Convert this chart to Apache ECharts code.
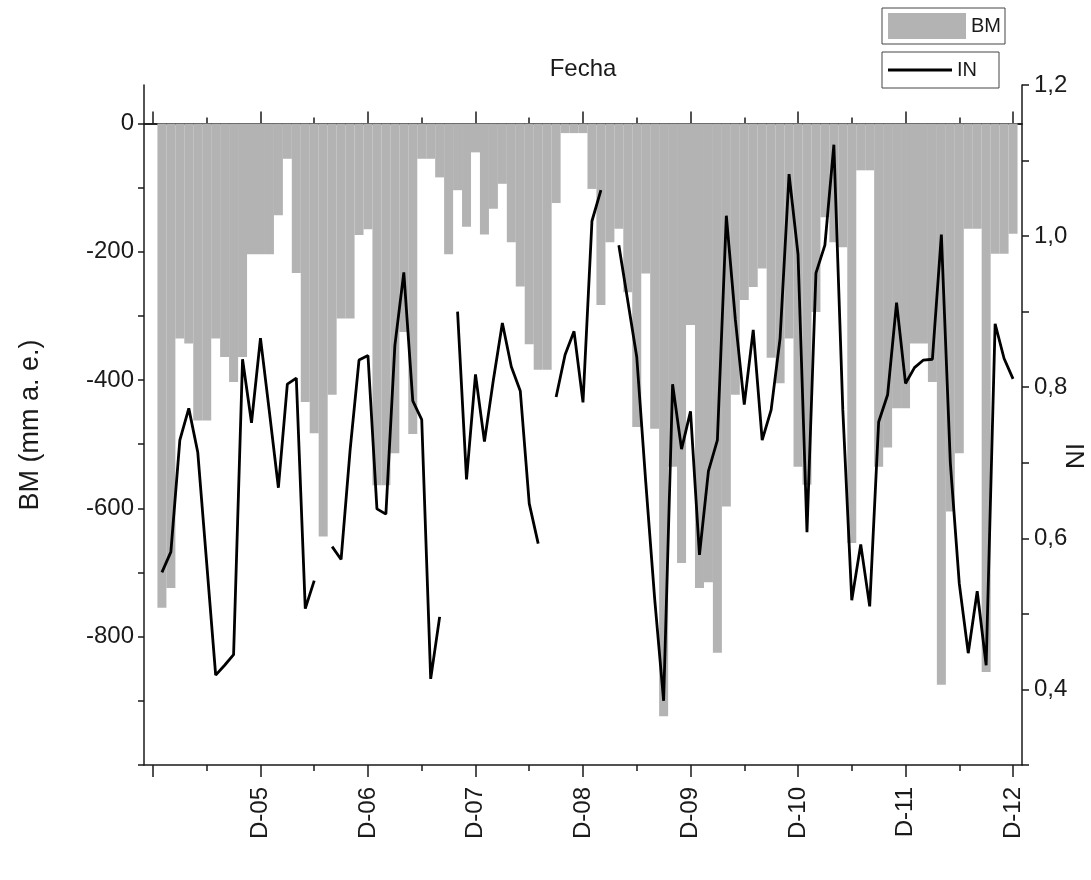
<!DOCTYPE html>
<html>
<head>
<meta charset="utf-8">
<script src="https://cdn.jsdelivr.net/npm/echarts@6/dist/echarts.min.js"></script>
<style>html,body{margin:0;padding:0;background:#fff}#c{width:1091px;height:880px}</style>
</head>
<body>
<div id="c"></div>
<script>
// Monthly values, Jan 2005 (month 1) .. Dec 2012 (month 96)
const BM = [
  -755,-724,-335,-343,-463,-463,-335,-364,-403,-364,-204,-204,
  -204,-143,-55,-233,-434,-483,-644,-423,-304,-304,-174,-165,
  -564,-564,-514,-325,-484,-55,-55,-84,-204,-104,-161,-45,
  -173,-133,-94,-185,-254,-344,-384,-384,-124,-15,-15,-15,
  -102,-283,-185,-164,-263,-473,-234,-476,-924,-535,-685,-314,
  -724,-715,-825,-597,-423,-275,-255,-226,-365,-405,-335,-535,
  -563,-294,-146,-185,-193,-654,-73,-73,-535,-505,-444,-444,
  -343,-343,-403,-875,-605,-514,-164,-164,-855,-203,-203,-172
];
const IN = [
  0.555,0.582,0.730,0.772,0.714,0.567,0.419,0.432,0.446,0.837,0.753,0.865,
  0.767,0.667,0.804,0.812,0.507,0.544,null,0.589,0.572,0.716,0.836,0.842,
  0.639,0.632,0.855,0.952,0.782,0.757,0.414,0.496,null,0.900,0.678,0.817,
  0.728,0.810,0.885,0.827,0.795,0.646,0.593,null,0.787,0.843,0.874,0.780,
  1.020,1.061,null,0.988,0.914,0.840,0.675,0.520,0.385,0.804,0.718,0.768,
  0.578,0.689,0.730,1.027,0.890,0.777,0.876,0.730,0.770,0.865,1.082,0.976,
  0.608,0.951,0.988,1.121,0.770,0.518,0.592,0.510,0.754,0.790,0.912,0.805,
  0.826,0.836,0.837,1.002,0.700,0.540,0.448,0.530,0.432,0.884,0.838,0.811
];
const yearTicks = [0,12,24,36,48,60,72,84,96];
const yearLabels = ['D-04','D-05','D-06','D-07','D-08','D-09','D-10','D-11','D-12'];
const halfYearTicks = [6,18,30,42,54,66,78,90];
const bmTicks = [-1000,-900,-800,-700,-600,-500,-400,-300,-200,-100,0];
const bmLabels = [-800,-600,-400,-200,0];
const inTicks = [0.3,0.4,0.5,0.6,0.7,0.8,0.9,1.0,1.1,1.2];
const inLabels = [0.4,0.6,0.8,1.0,1.2];

const FONT = "'Liberation Sans', Arial, sans-serif";
const INK = '#1a1a1a';
const lineSt = {color: INK, width: 1.5};

const chart = echarts.init(document.getElementById('c'), null, {renderer: 'canvas'});
const gridBox = {left: 144, right: 69, top: 85, bottom: 115, outerBoundsMode: 'none', containLabel: false};
const xBase = {type: 'value', min: -1, max: 97, splitLine: {show: false}};

chart.setOption({
  backgroundColor: '#fff',
  animation: false,
  textStyle: {fontFamily: FONT},
  grid: [Object.assign({}, gridBox), Object.assign({}, gridBox)],
  graphic: [
    {type: 'text', x: 1073, y: 456, rotation: -Math.PI / 2,
     style: {text: 'IN', fontSize: 26, fontFamily: FONT, fill: INK, align: 'center', verticalAlign: 'middle'}}
  ],
  legend: [
    {data: [{name: 'BM', icon: 'rect'}], left: 882, top: 8, itemWidth: 78, itemHeight: 26, itemGap: 4,
     padding: [5, 4, 5, 6], borderColor: '#444', borderWidth: 1, selectedMode: false,
     textStyle: {fontSize: 20, color: INK, fontFamily: FONT}},
    {data: [{name: 'IN', icon: 'rect', itemStyle: {color: '#000'}}], left: 882, top: 52,
     itemWidth: 64, itemHeight: 3, itemGap: 4,
     padding: [8, 22, 8, 6], borderColor: '#444', borderWidth: 1, selectedMode: false,
     textStyle: {fontSize: 20, color: INK, fontFamily: FONT}}
  ],
  xAxis: [
    Object.assign({}, xBase, {
      gridIndex: 0, position: 'bottom',
      axisLine: {show: true, onZero: false, lineStyle: lineSt},
      axisTick: {show: true, customValues: yearTicks, length: 12, lineStyle: lineSt},
      axisLabel: {show: true, customValues: yearTicks.slice(1), rotate: 90, margin: 22,
        fontSize: 24, color: INK, fontFamily: FONT,
        formatter: v => yearLabels[yearTicks.indexOf(Math.round(v))] || ''}
    }),
    Object.assign({}, xBase, {
      gridIndex: 0, position: 'top',
      axisLine: {show: true, onZero: true, lineStyle: lineSt},
      axisTick: {show: true, customValues: yearTicks, length: 12, lineStyle: lineSt},
      axisLabel: {show: false},
      name: 'Fecha', nameLocation: 'middle', nameGap: 4, nameMoveOverlap: false,
      nameTextStyle: {fontSize: 24, color: INK, fontFamily: FONT}
    }),
    Object.assign({}, xBase, {
      gridIndex: 1, position: 'bottom',
      axisLine: {show: false, onZero: false},
      axisTick: {show: true, customValues: halfYearTicks, length: 6, lineStyle: lineSt},
      axisLabel: {show: false}
    }),
    Object.assign({}, xBase, {
      gridIndex: 1, position: 'top',
      axisLine: {show: true, onZero: true, lineStyle: lineSt},
      axisTick: {show: true, customValues: halfYearTicks, length: 6, lineStyle: lineSt},
      axisLabel: {show: false}
    })
  ],
  yAxis: [
    {gridIndex: 0, type: 'value', position: 'left', min: -1000, max: 60,
     axisLine: {show: true, onZero: false, lineStyle: lineSt},
     axisTick: {show: true, customValues: bmTicks, length: 6, lineStyle: lineSt},
     axisLabel: {show: true, customValues: bmLabels, margin: 10, fontSize: 24, color: INK, fontFamily: FONT},
     splitLine: {show: false},
     name: 'BM (mm a. e.)', nameLocation: 'middle', nameGap: 100, nameRotate: 90, nameMoveOverlap: false,
     nameTextStyle: {fontSize: 27, color: INK, fontFamily: FONT}},
    {gridIndex: 0, type: 'value', position: 'right', min: 0.3, max: 1.2,
     axisLine: {show: true, onZero: false, lineStyle: lineSt},
     axisTick: {show: true, customValues: inTicks, length: 7, lineStyle: lineSt},
     axisLabel: {show: true, customValues: inLabels, margin: 12, fontSize: 24, color: INK, fontFamily: FONT,
       formatter: v => v.toFixed(1).replace('.', ',')},
     splitLine: {show: false}},
    {gridIndex: 1, type: 'value', min: -1000, max: 60, show: false,
     axisLine: {onZero: false}}
  ],
  series: [
    {name: 'BM', type: 'bar', xAxisIndex: 0, yAxisIndex: 0, barWidth: 9,
     itemStyle: {color: '#b3b3b3'}, z: 1,
     data: BM.map((v, i) => [i + 1, v])},
    {name: 'IN', type: 'line', xAxisIndex: 0, yAxisIndex: 1, symbol: 'none', showSymbol: false,
     connectNulls: false, z: 3,
     lineStyle: {color: '#000', width: 2.8}, itemStyle: {color: '#000'},
     data: IN.map((v, i) => [i + 1, v])}
  ]
});
</script>
</body>
</html>
